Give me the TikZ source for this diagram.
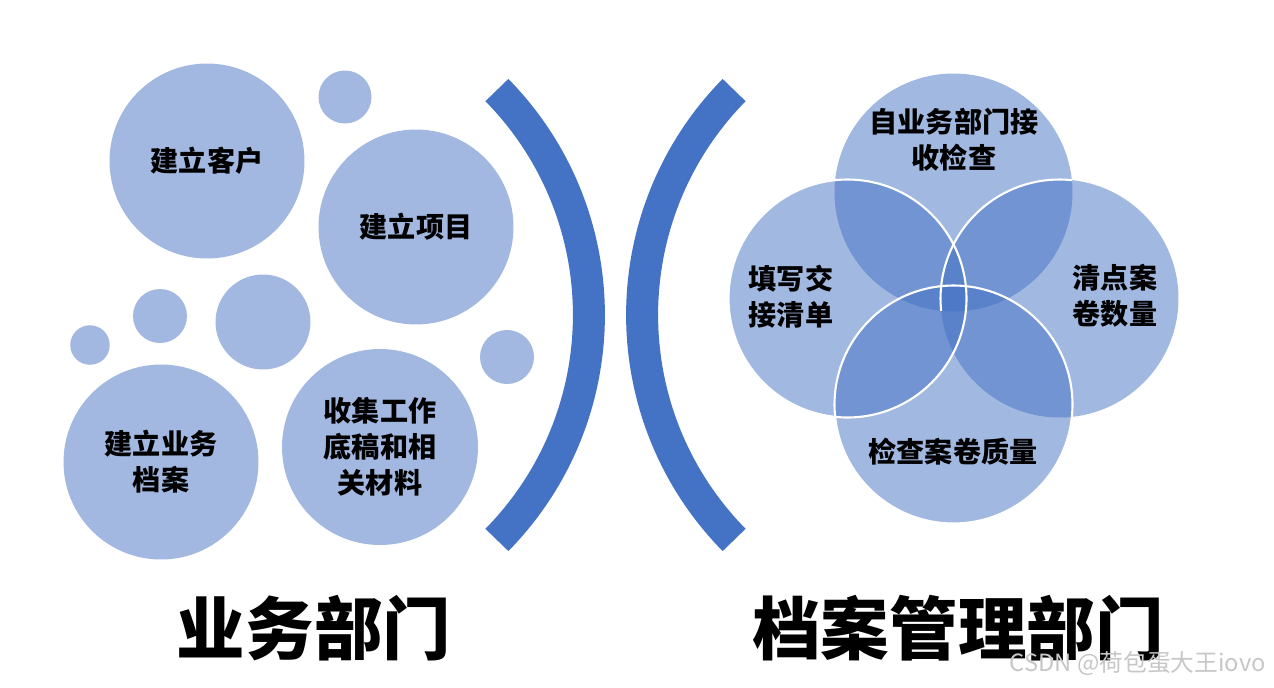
\documentclass[tikz,border=0pt]{standalone}
\usepackage{fontspec}
\usepackage{xcolor}
\usepackage{tikz}
\usetikzlibrary{positioning}
\newfontfamily\cjk{Noto Sans CJK SC}
\definecolor{archblue}{HTML}{4472C4}
\definecolor{bubbleblue}{HTML}{A2B8E1}
\tikzset{
    bizbubble/.style={circle, fill=bubbleblue, inner sep=0pt, outer sep=0pt, align=center, font=\cjk\bfseries\fontsize{16}{20.5}\selectfont},
    venncircle/.style={circle, fill=archblue, fill opacity=0.5, inner sep=0pt, outer sep=0pt, minimum size=4.76cm},
    vennlabel/.style={align=center, font=\cjk\bfseries\fontsize{16}{20.5}\selectfont},
    vennedge/.style={draw=white, line width=1.2pt},
    bracketarc/.style={draw=archblue, line width=0.64cm},
    depttitle/.style={font=\cjk\bfseries\fontsize{39}{40}\selectfont},
    watermark/.style={anchor=east, text=black!22, font=\cjk\fontsize{13.5}{14}\selectfont}
}

\begin{document}
\begin{tikzpicture}[x=0.02cm, y=0.02cm]
    \useasboundingbox[fill=white] (0,0) rectangle (1274,-687);

    % business side
    \node[bizbubble, minimum size=3.9cm] (client) at (207,-161) {建立客户};
    \node[bizbubble, minimum size=1.06cm] (dotA) at (345,-97) {};
    \node[bizbubble, minimum size=3.9cm] (project) at (416,-227) {建立项目};
    \node[bizbubble, minimum size=1.9cm] (dotB) at (263,-322) {};
    \node[bizbubble, minimum size=1.08cm] (dotC) at (160,-316) {};
    \node[bizbubble, minimum size=0.79cm] (dotD) at (90,-345) {};
    \node[bizbubble, minimum size=1.08cm] (dotE) at (507,-357) {};
    \node[bizbubble, minimum size=3.9cm] (bizfile) at (161,-462) {建立业务\\档案};
    \node[bizbubble, minimum size=3.92cm] (drafts) at (380,-447) {收集工作\\底稿和相\\关材料};

    % brackets
    \draw[bracketarc] ([shift={(-44.5:6.42cm)}]268,-315) arc[start angle=-44.5, end angle=44.5, radius=6.42cm];
    \draw[bracketarc] ([shift={(135.5:6.42cm)}]963,-315) arc[start angle=135.5, end angle=224.5, radius=6.42cm];

    % archive side
    \node[venncircle] (vtop) at (953.5,-192.5) {};
    \node[venncircle] (vright) at (1059.5,-298.5) {};
    \node[venncircle] (vbottom) at (953.5,-404.5) {};
    \node[venncircle] (vleft) at (847.5,-298.5) {};
    \begin{scope}
        \clip (vtop.center) circle[radius=2.38cm];
        \draw[vennedge] (vright.center) circle[radius=2.38cm];
    \end{scope}
    \draw[vennedge] (vbottom.center) circle[radius=2.38cm];
    \draw[vennedge] (vleft.center) circle[radius=2.38cm];

    \node[vennlabel] (receive) at (954,-140) {自业务部门接\\收检查};
    \node[vennlabel] (handover) at (791,-297) {填写交\\接清单};
    \node[vennlabel] (count) at (1115,-296) {清点案\\卷数量};
    \node[vennlabel] (quality) at (953,-452) {检查案卷质量};

    % titles
    \node[depttitle] (bizdept) at (314,-628) {业务部门};
    \node[depttitle] (archdept) at (958,-628) {档案管理部门};
    \node[watermark] (mark) at (1272,-664) {CSDN @荷包蛋大王iovo};
\end{tikzpicture}
\end{document}
